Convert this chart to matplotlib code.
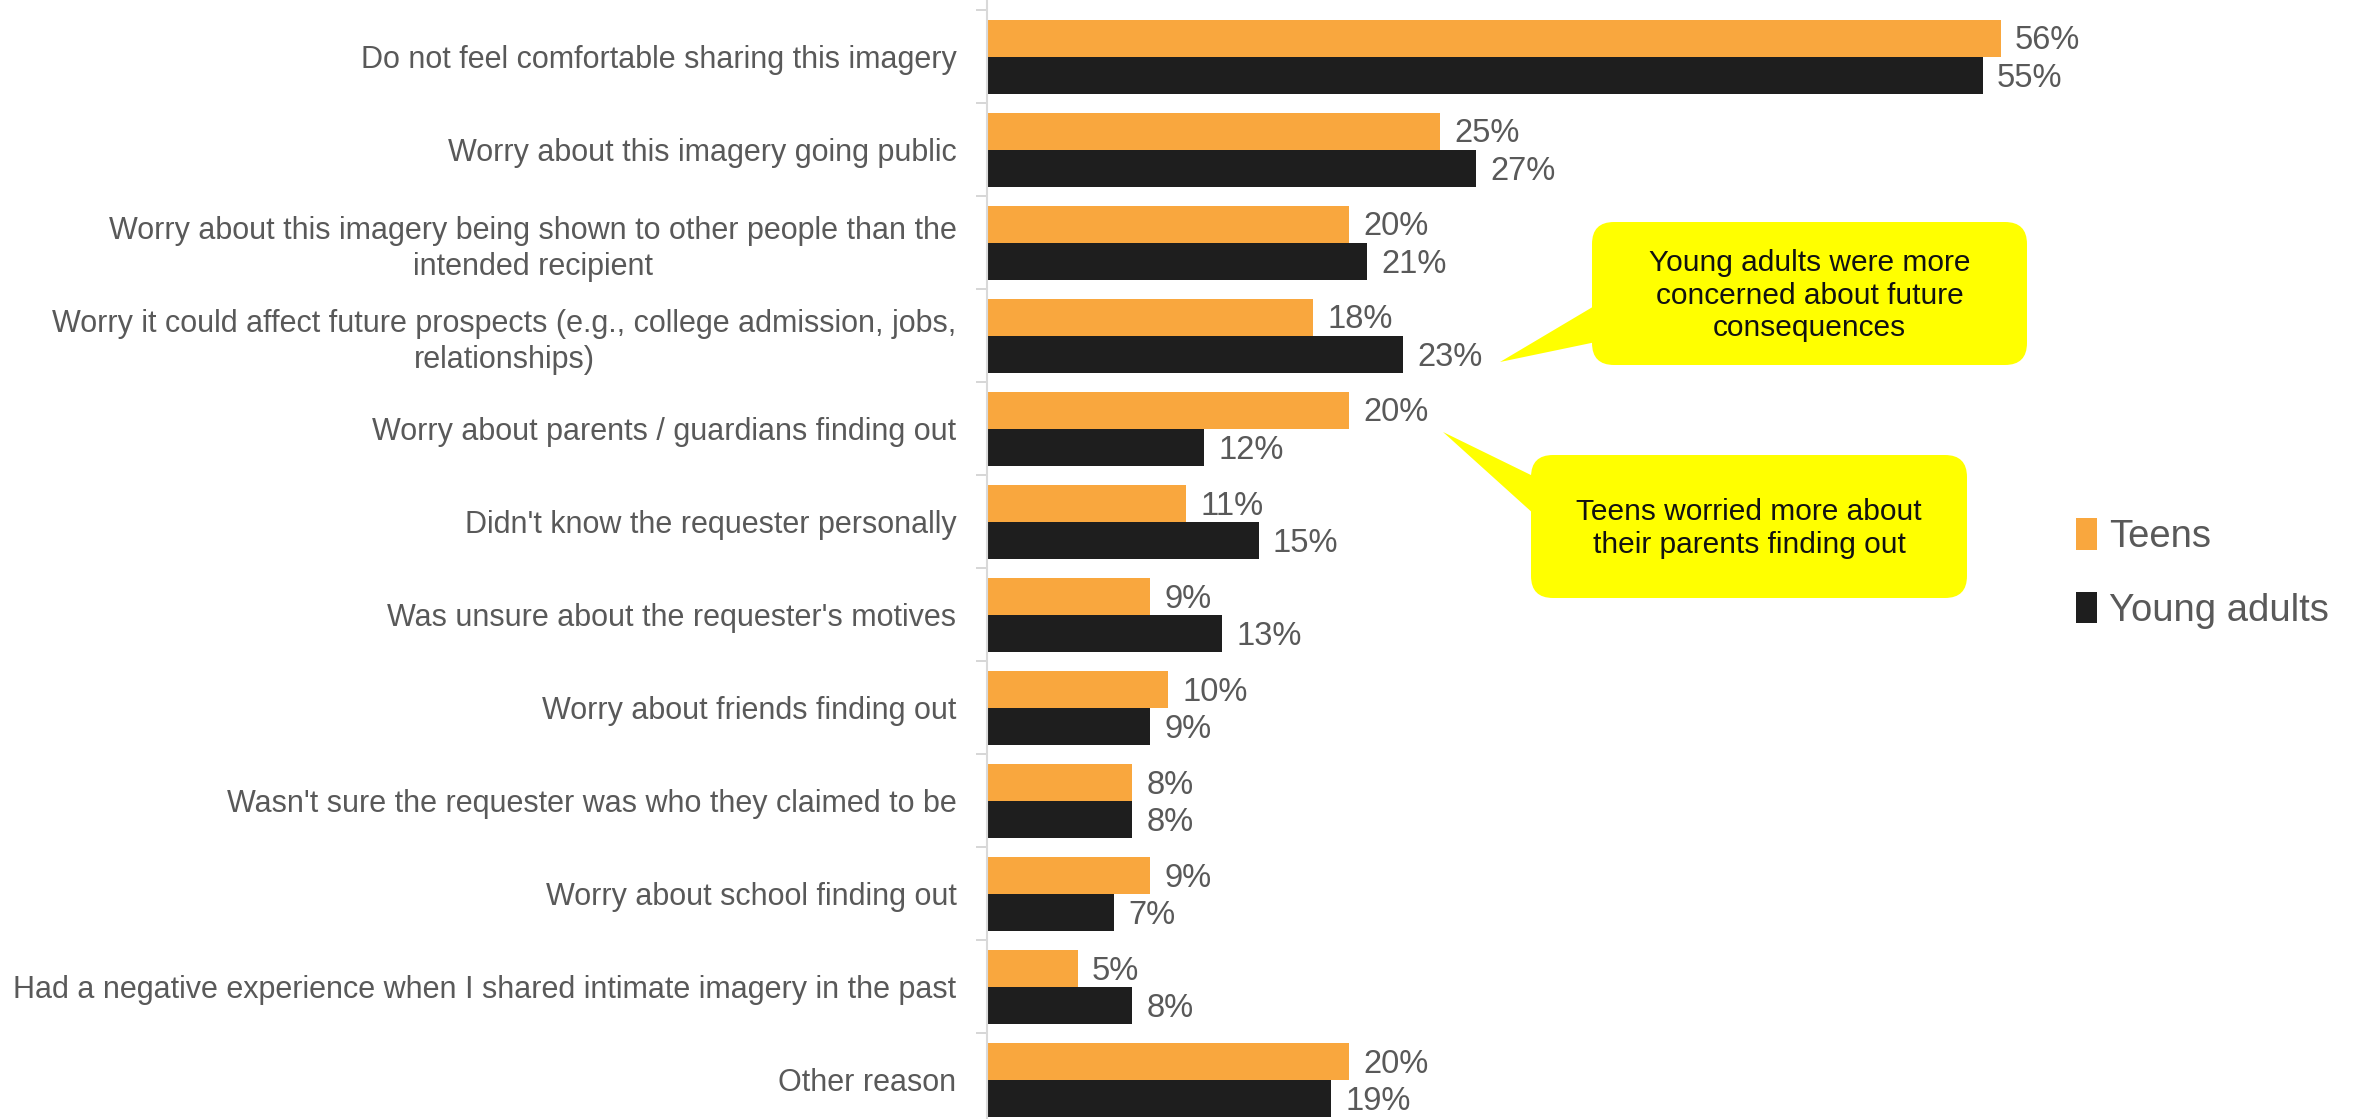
import matplotlib
matplotlib.use('Agg')
import matplotlib.pyplot as plt
from matplotlib.patches import FancyBboxPatch, Polygon
import numpy as np

# data to plot
reasons = ['Do not feel comfortable sharing this imagery',
           'Worry about this imagery going public',
           'Worry about this imagery being shown to other people than the\nintended recipient',
           'Worry it could affect future prospects (e.g., college admission, jobs,\nrelationships)',
           'Worry about parents / guardians finding out',
           "Didn't know the requester personally",
           "Was unsure about the requester's motives",
           'Worry about friends finding out',
           "Wasn't sure the requester was who they claimed to be",
           'Worry about school finding out',
           'Had a negative experience when I shared intimate imagery in the past',
           'Other reason']
teens = [56, 25, 20, 18, 20, 11, 9, 10, 8, 9, 5, 20]
young_adults = [55, 27, 21, 23, 12, 15, 13, 9, 8, 7, 8, 19]

orange = '#F9A73E'
dark = '#1E1E1E'
grey = '#595959'

plt.rcParams['font.family'] = ['Liberation Sans', 'DejaVu Sans']

W, H = 2354, 1119
fig = plt.figure(figsize=(W / 100, H / 100), dpi=100)
ax = fig.add_axes([987 / W, 0, (2073 - 987) / W, 1])

index = np.arange(len(reasons))
bar_h = 0.4

ax.barh(index - bar_h / 2, teens, bar_h, color=orange, label='Teens')
ax.barh(index + bar_h / 2, young_adults, bar_h, color=dark, label='Young adults')

for i in index:
    ax.text(teens[i] + 0.8, i - 0.17, '%d%%' % teens[i], va='center', ha='left',
            fontsize=23.5, color=grey)
    ax.text(young_adults[i] + 0.8, i + 0.23, '%d%%' % young_adults[i], va='center',
            ha='left', fontsize=23.5, color=grey)

ax.set_xlim(0, 60)
ax.set_ylim(11.42, -0.61)
ax.set_yticks(index)
ax.set_yticklabels(reasons, fontsize=22, color=grey, multialignment='center',
                   linespacing=1.25)
ax.tick_params(axis='y', which='major', length=0, pad=22)
ax.set_yticks(np.arange(-0.5, 11, 1), minor=True)
ax.tick_params(axis='y', which='minor', length=8, color='#d0d0d0', width=1.2)
ax.set_xticks([])
for s in ['top', 'right', 'bottom']:
    ax.spines[s].set_visible(False)
ax.spines['left'].set_color('#d9d9d9')
ax.spines['left'].set_linewidth(1.5)

# legend
fig.legend(loc='upper left', bbox_to_anchor=(2042 / W, 1 - 484 / H), frameon=False,
           fontsize=27.5, handlelength=0.55, handleheight=0.9, handletextpad=0.3,
           labelspacing=0.95, labelcolor=grey)

# callouts in pixel coordinates
ov = fig.add_axes([0, 0, 1, 1], zorder=5)
ov.set_xlim(0, W)
ov.set_ylim(H, 0)
ov.axis('off')
ov.patch.set_alpha(0)

callouts = [
    ((1592, 222, 435, 143), [(1596, 305), (1500, 362), (1596, 342)],
     'Young adults were more\nconcerned about future\nconsequences'),
    ((1531, 455, 436, 143), [(1535, 477), (1443, 432), (1535, 515)],
     'Teens worried more about\ntheir parents finding out'),
]
for (x0, y0, w, h), wedge, txt in callouts:
    ov.add_patch(FancyBboxPatch((x0, y0), w, h, boxstyle='round,pad=0,rounding_size=22',
                                facecolor='#FFFF00', edgecolor='none'))
    ov.add_patch(Polygon(wedge, closed=True, facecolor='#FFFF00', edgecolor='none'))
    ov.text(x0 + w / 2, y0 + h / 2 + 2, txt, ha='center', va='center', fontsize=21.5,
            color='#111111', linespacing=1.2)

plt.savefig('out.png', dpi=100)
